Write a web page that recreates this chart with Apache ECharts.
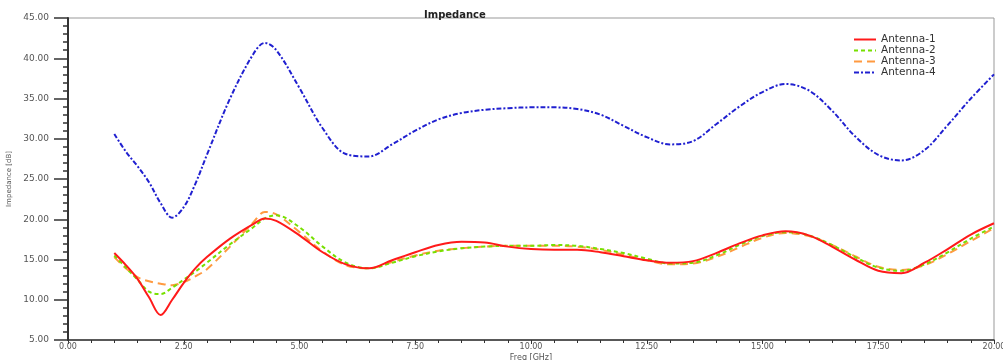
<!DOCTYPE html>
<html>
<head>
<meta charset="utf-8">
<script src="https://cdn.jsdelivr.net/npm/echarts@6/dist/echarts.min.js"></script>
<style>html,body{margin:0;padding:0;background:#fff}#c{width:1003px;height:360px}</style>
</head>
<body>
<div id="c"></div>
<script>
const freq = [1,1.25,1.5,1.75,2,2.25,2.5,2.75,3,3.5,4,4.25,4.5,5,5.5,6,6.5,7,7.5,8,8.5,9,9.5,10,10.5,11,11.5,12,12.5,13,13.5,14,14.5,15,15.5,16,16.5,17,17.5,18,18.5,19,19.5,20];
const antenna1 = [15.8,14.3,12.6,10.3,8.1,10.0,12.1,13.9,15.3,17.6,19.4,20.1,19.8,18.0,15.9,14.4,13.9,14.9,15.9,16.8,17.2,17.1,16.6,16.3,16.2,16.2,15.9,15.4,14.9,14.6,14.8,15.8,17.0,18.0,18.5,18.0,16.6,15.0,13.6,13.3,14.6,16.3,18.1,19.5];
const antenna2 = [15.5,14.0,12.5,11.0,10.7,11.5,12.5,13.5,14.6,16.9,19.0,20.1,20.5,19.0,16.6,14.6,13.9,14.6,15.4,16.0,16.4,16.6,16.7,16.7,16.8,16.7,16.3,15.8,15.1,14.5,14.6,15.5,16.8,17.9,18.4,18.0,16.8,15.3,14.0,13.6,14.4,15.9,17.6,19.1];
const antenna3 = [15.3,13.9,12.8,12.3,12.0,11.8,12.2,12.9,13.8,16.6,19.6,20.9,20.6,18.4,16.0,14.3,13.9,14.7,15.5,16.1,16.4,16.6,16.7,16.7,16.7,16.6,16.2,15.6,14.9,14.4,14.5,15.3,16.5,17.7,18.3,17.9,16.8,15.4,14.1,13.7,14.3,15.7,17.3,18.9];
const antenna4 = [30.6,28.4,26.6,24.6,22.0,20.2,21.5,24.4,28.0,35.0,40.5,41.9,41.0,36.3,31.3,28.1,27.8,29.3,31.0,32.4,33.2,33.6,33.8,33.9,33.9,33.7,33.0,31.6,30.2,29.3,29.7,31.8,34.0,35.8,36.8,36.0,33.5,30.3,28.0,27.3,28.6,31.7,35.0,38.0];
const seriesNames = ['Antenna-1','Antenna-2','Antenna-3','Antenna-4'];

const pairs = ys => freq.map((f,i)=>[f, ys[i]]);
const chart = echarts.init(document.getElementById('c'), null, {renderer:'canvas'});
const lblFmt = v => v.toFixed(2);
chart.setOption({
  animation:false,
  title:{text:'Impedance', left:419, top:5, textStyle:{fontSize:10, fontWeight:'bold', color:'#222', fontFamily:'DejaVu Sans'}},
  legend:{
    orient:'vertical', left:848, top:29, itemWidth:22, itemHeight:8, itemGap:0,
    itemStyle:{opacity:0},
    textStyle:{fontSize:10.5, lineHeight:11, color:'#333', fontFamily:'DejaVu Sans'},
    data: seriesNames
  },
  grid:{left:68, right:9, top:18, bottom:20, outerBoundsMode:'none', containLabel:false, show:true, borderColor:'#999', borderWidth:1},
  xAxis:{
    type:'value', min:0, max:20, interval:2.5,
    name:'Freq [GHz]', nameLocation:'middle', nameGap:14, nameMoveOverlap:false,
    nameTextStyle:{fontSize:8, color:'#555', fontFamily:'DejaVu Sans'},
    axisLine:{lineStyle:{color:'#333', width:1.5}},
    axisTick:{show:true, length:4, lineStyle:{color:'#333'}},
    minorTick:{show:true, splitNumber:5, length:3, lineStyle:{color:'#333'}},
    axisLabel:{fontSize:8, color:'#555', margin:3, formatter:lblFmt, fontFamily:'DejaVu Sans'},
    splitLine:{show:false}
  },
  yAxis:{
    type:'value', min:5, max:45, interval:5,
    name:'Impedance [dB]', nameLocation:'middle', nameGap:55, nameMoveOverlap:false,
    nameTextStyle:{fontSize:7, color:'#555', fontFamily:'DejaVu Sans'},
    axisLine:{show:true, lineStyle:{color:'#333', width:2}},
    axisTick:{show:true, length:14, lineStyle:{color:'#333', width:1.5}},
    minorTick:{show:true, splitNumber:5, length:5, lineStyle:{color:'#333', width:1.5}},
    axisLabel:{fontSize:9, color:'#555', margin:19, formatter:lblFmt, fontFamily:'DejaVu Sans'},
    splitLine:{show:false}
  },
  series:[
    {name:seriesNames[0], type:'line', data:pairs(antenna1), smooth:0.35, symbol:'none', color:'#ff1a1a', lineStyle:{width:2, color:'#ff1a1a'}, z:5},
    {name:seriesNames[1], type:'line', data:pairs(antenna2), smooth:0.35, symbol:'none', color:'#77e000', lineStyle:{width:2, type:[4,3], color:'#77e000'}, z:4},
    {name:seriesNames[2], type:'line', data:pairs(antenna3), smooth:0.35, symbol:'none', color:'#ff9a40', lineStyle:{width:2, type:[8,5], color:'#ff9a40'}, z:3},
    {name:seriesNames[3], type:'line', data:pairs(antenna4), smooth:0.35, symbol:'none', color:'#2020d0', lineStyle:{width:2, type:[5,2,2,2], color:'#2020d0'}, z:2}
  ]
});
</script>
</body>
</html>
